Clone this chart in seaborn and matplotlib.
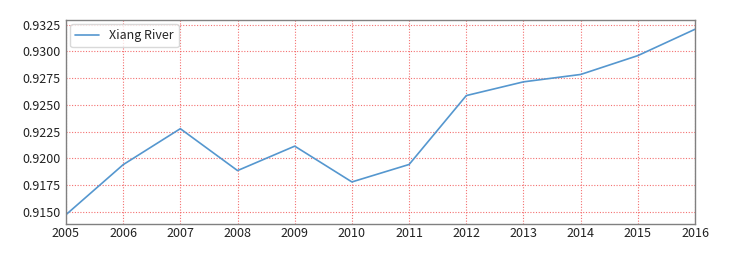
import matplotlib
matplotlib.use("Agg")

import matplotlib.pyplot as plt
import pandas as pd
import seaborn as sns

# Data
years = [2005, 2006, 2007, 2008, 2009, 2010, 2011, 2012, 2013, 2014, 2015, 2016]
xiang = [0.91475, 0.91942, 0.92278, 0.91887, 0.92115, 0.91781,
         0.91944, 0.92587, 0.92715, 0.92784, 0.92960, 0.93206]
y_ticks = [0.9150, 0.9175, 0.9200, 0.9225, 0.9250, 0.9275, 0.9300, 0.9325]

df = pd.DataFrame({"year": years, "value": xiang})

sns.set_style("white")
plt.rcParams["font.family"] = ["Noto Sans CJK SC", "DejaVu Sans"]

fig = plt.figure(figsize=(7.41, 2.56), dpi=100)
ax = fig.add_axes([0.089, 0.125, 0.849, 0.797])

sns.lineplot(x="year", y="value", data=df, ax=ax,
             color="#5597cf", linewidth=1.2, label="Xiang River")

ax.set_xlim(2005, 2016)
ax.set_xticks(years)
ax.set_yticks(y_ticks)
ax.set_yticklabels([f"{v:.4f}" for v in y_ticks])
ax.set_xlabel("")
ax.set_ylabel("")

ax.grid(True, color="#f04040", linestyle=(0, (1, 1.5)), linewidth=0.8, alpha=0.75)
ax.tick_params(length=0, labelsize=9, colors="#222222")
ax.tick_params(axis="x", pad=2)
ax.tick_params(axis="y", pad=4)
for s in ax.spines.values():
    s.set_color("#808080")
    s.set_linewidth(1.0)

ax.legend(loc="upper left", fontsize=9, frameon=True, handlelength=1.9,
          borderaxespad=0.35, edgecolor="#d0d0d0", fancybox=True)

fig.savefig("out.png", dpi=100)
